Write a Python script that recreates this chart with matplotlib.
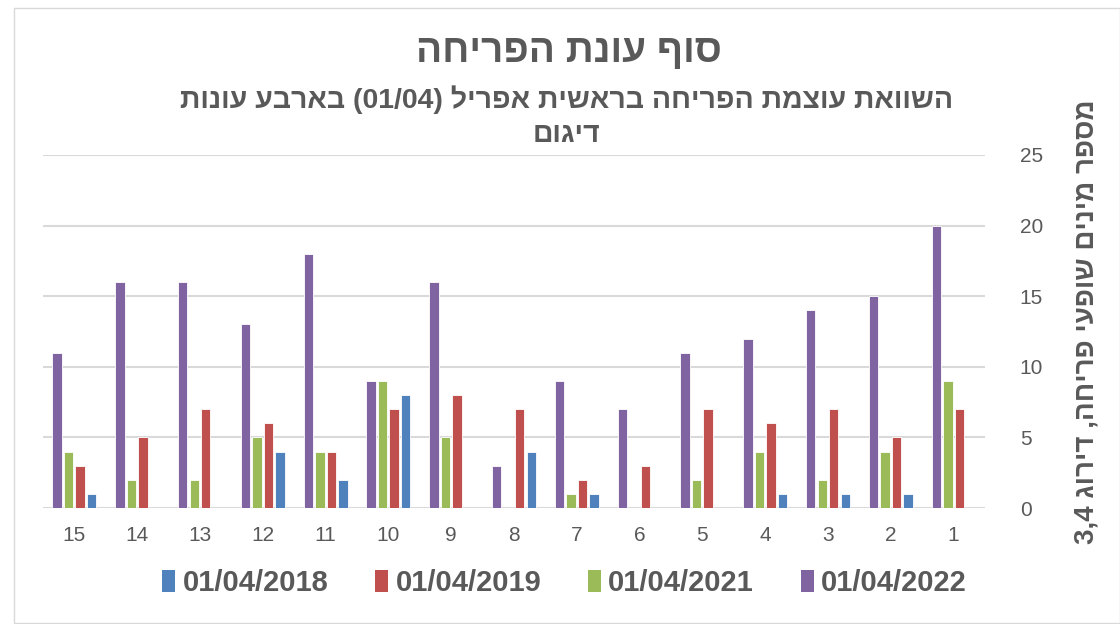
import re
import numpy as np
import matplotlib
matplotlib.use('Agg')
import matplotlib.pyplot as plt
from matplotlib.patches import Rectangle, Patch

categories = list(range(1, 16))
vals_2018 = [0, 1, 1, 1, 0, 0, 1, 4, 0, 8, 2, 4, 0, 0, 1]
vals_2019 = [7, 5, 7, 6, 7, 3, 2, 7, 8, 7, 4, 6, 7, 5, 3]
vals_2021 = [9, 4, 2, 4, 2, 0, 1, 0, 5, 9, 4, 5, 2, 2, 4]
vals_2022 = [20, 15, 14, 12, 11, 7, 9, 3, 16, 9, 18, 13, 16, 16, 11]
series_names = ['01/04/2018', '01/04/2019', '01/04/2021', '01/04/2022']
colors = ['#4F81BD', '#C0504D', '#9BBB59', '#8064A2']

title = 'סוף עונת הפריחה'
subtitle1 = 'השוואת עוצמת הפריחה בראשית אפריל (01/04) בארבע עונות'
subtitle2 = 'דיגום'
ylabel = 'מספר מינים שופעי פריחה, דירוג 3,4'


def rtl(s):
    # matplotlib has no bidi: put hebrew into visual order, keep numbers LTR
    r = s[::-1]
    r = re.sub(r'[0-9][0-9/,.]*[0-9]|[0-9]', lambda m: m.group(0)[::-1], r)
    return r.translate(str.maketrans('()', ')('))


plt.rcParams['font.family'] = ['Liberation Sans', 'DejaVu Sans']
txt = '#595959'

fig = plt.figure(figsize=(11.2, 6.24), dpi=100)
ax = fig.add_axes([43 / 1120, 1 - 508 / 624, (985 - 43) / 1120, (508 - 155) / 624])

x = np.array(categories)
w = 0.15
step = 0.183
all_vals = [vals_2018, vals_2019, vals_2021, vals_2022]
for k, (vals, c) in enumerate(zip(all_vals, colors)):
    off = (k - 1.5) * step
    ax.bar(x + off, vals, width=w, color=c, edgecolor='white', linewidth=0.6, zorder=3)

ax.set_xlim(15.5, 0.5)
ax.set_ylim(0, 25)
ax.set_yticks(range(0, 26, 5))
ax.set_xticks(x)
ax.set_xticklabels([str(c) for c in categories])
ax.yaxis.tick_right()
ax.grid(axis='y', color='#D9D9D9', linewidth=1.5, zorder=0)
for s in ax.spines.values():
    s.set_visible(False)
ax.tick_params(axis='both', length=0, labelsize=15, labelcolor=txt)
ax.tick_params(axis='y', pad=25)
ax.tick_params(axis='x', pad=13)

fig.text(0.508, 1 - 52 / 624, rtl(title), ha='center', va='center',
         fontsize=28, fontweight='bold', color=txt)
fig.text(0.506, 1 - 100 / 624, rtl(subtitle1), ha='center', va='center',
         fontsize=20.5, fontweight='bold', color=txt)
fig.text(0.506, 1 - 135 / 624, rtl(subtitle2), ha='center', va='center',
         fontsize=20.5, fontweight='bold', color=txt)
fig.text(1086 / 1120, 1 - 322 / 624, rtl(ylabel), ha='center', va='center',
         rotation=90, fontsize=20, fontweight='bold', color=txt)

handles = [Patch(facecolor=c, edgecolor='none') for c in colors]
fig.legend(handles, series_names, loc='center', bbox_to_anchor=(0.504, 1 - 583 / 624),
           ncol=4, frameon=False, handlelength=0.45, handleheight=0.8,
           handletextpad=0.25, columnspacing=1.6,
           prop={'size': 21, 'weight': 'bold'}, labelcolor=txt)

fig.patches.append(Rectangle((14 / 1120, 0.002), 1 - 14 / 1120, 1 - 8 / 624 - 0.002,
                             transform=fig.transFigure, fill=False,
                             edgecolor='#D9D9D9', linewidth=1))

fig.savefig('out.png', dpi=100)
